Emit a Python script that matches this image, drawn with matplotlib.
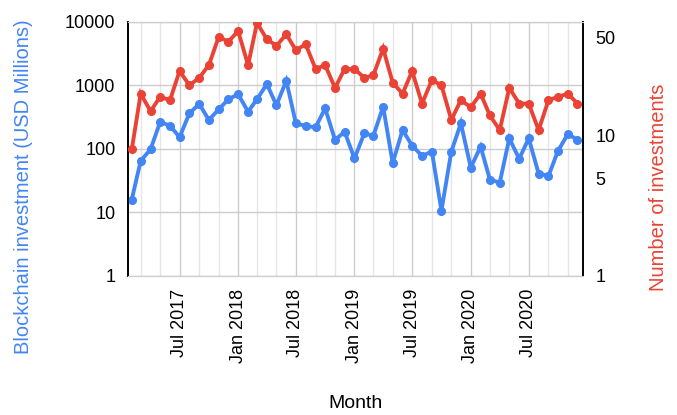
import matplotlib
matplotlib.use("Agg")
import matplotlib.pyplot as plt
import matplotlib.dates as mdates
from matplotlib.ticker import FixedLocator, NullFormatter, NullLocator
import pandas as pd

plt.rcParams['font.family'] = ['Liberation Sans', 'DejaVu Sans']

# monthly, Feb 2017 .. Dec 2020
months = pd.date_range('2017-02-01', '2020-12-01', freq='MS')

# blockchain investment, USD millions
invest = [16, 65, 99, 266, 233, 153, 365, 511, 286, 422, 606, 727,
          387, 606, 1056, 488, 1190, 254, 230, 220, 437, 139, 187, 71,
          177, 160, 464, 60, 199, 113, 78, 91, 10.7, 91, 254, 51,
          109, 33, 29.5, 147, 70, 147, 41, 37.6, 94, 172, 139]

# number of investments
deals = [8, 20, 15, 19, 18, 29, 23, 26, 32, 51, 47, 56,
         32, 64, 49, 44, 53, 41, 45, 30, 32, 22, 30, 30,
         26, 27, 42, 24, 20, 29, 17, 25, 23, 13, 18, 16,
         20, 14, 11, 22, 17, 17, 11, 18, 19, 20, 17]

blue = '#4285F4'
red = '#EA4335'

fig = plt.figure(figsize=(6.77, 4.15), dpi=100)
ax = fig.add_axes([0.189, 0.335, 0.672, 0.612])
ax2 = ax.twinx()

ax.plot(months, invest, color=blue, lw=2.8, marker='o', ms=5.5,
        solid_joinstyle='miter', zorder=3)
ax2.plot(months, deals, color=red, lw=2.8, marker='o', ms=5.5,
         solid_joinstyle='miter', zorder=3)

ax.set_yscale('log')
ax.set_ylim(1, 10000)
ax.yaxis.set_major_locator(FixedLocator([1, 10, 100, 1000, 10000]))
ax.set_yticklabels(['1', '10', '100', '1000', '10000'])
ax.yaxis.set_minor_locator(NullLocator())

ax2.set_yscale('log')
ax2.set_ylim(1, 65)
ax2.yaxis.set_major_locator(FixedLocator([1, 5, 10, 50]))
ax2.set_yticklabels(['1', '5', '10', '50'])
ax2.yaxis.set_minor_locator(NullLocator())

ax.set_xlim(pd.Timestamp('2017-01-20'), pd.Timestamp('2020-12-18'))
ax.xaxis.set_major_locator(mdates.MonthLocator(bymonth=[1, 7]))
ax.xaxis.set_major_formatter(mdates.DateFormatter('%b %Y'))
ax.xaxis.set_minor_locator(mdates.MonthLocator(bymonth=[3, 5, 9, 11]))
ax.xaxis.set_minor_formatter(NullFormatter())

ax.grid(True, which='major', color='#cccccc', lw=1.0, zorder=0)
ax.grid(True, which='minor', axis='x', color='#e6e6e6', lw=1.0, zorder=0)

ax.tick_params(axis='both', which='both', length=0, labelsize=13)
ax.tick_params(axis='x', pad=9, labelrotation=90)
ax.tick_params(axis='y', pad=9)
ax2.tick_params(axis='y', length=0, labelsize=13, pad=9)

for a in (ax, ax2):
    a.spines['top'].set_color('#cccccc')
    a.spines['bottom'].set_color('#cccccc')
    a.spines['left'].set_color('black')
    a.spines['right'].set_color('black')
    a.spines['left'].set_linewidth(1.2)
    a.spines['right'].set_linewidth(1.2)

fig.text(0.034, 0.549, 'Blockchain investment (USD Millions)', color=blue,
         fontsize=14.5, rotation=90, ha='center', va='center')
fig.text(0.972, 0.549, 'Number of investments', color=red,
         fontsize=14.5, rotation=90, ha='center', va='center')
ax.set_xlabel('Month', fontsize=14, labelpad=23)

fig.savefig('out.png', dpi=100)
